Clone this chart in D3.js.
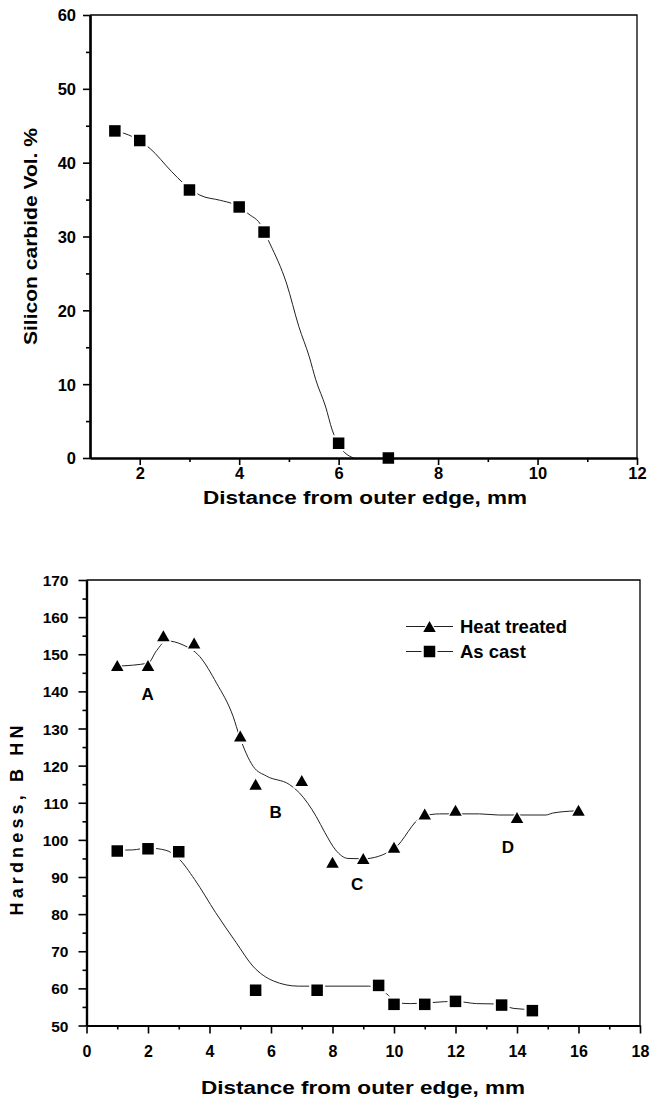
<!DOCTYPE html>
<html><head><meta charset="utf-8">
<script src="https://cdn.jsdelivr.net/npm/d3@7"></script>
<style>
body{margin:0;background:#fff}
svg{display:block}
text{font-family:'Liberation Sans',Arial,Helvetica,sans-serif;font-weight:bold;fill:#000}
</style>
</head><body>
<svg id="c" width="650" height="1104"></svg>
<script>
// ---------- Top chart data: Silicon carbide vol. % ----------
const sicX = [1.5, 2, 3, 4, 4.5, 6, 7];
const sicY = [44.3, 43, 36.3, 34, 30.6, 2, 0];
const sicFitX = [1.5, 1.86, 2.21, 2.64, 2.88, 3.21, 3.62, 3.88, 4.22, 4.39, 4.62, 4.95, 5.2, 5.41, 5.54, 5.74, 5.87, 6.0, 6.3];
const sicFitY = [44.3, 43.5, 41.9, 38.8, 37.2, 35.6, 34.9, 34.4, 32.9, 32.0, 29.0, 23.7, 17.8, 13.7, 10.6, 6.9, 3.8, 1.8, 0];
const topXTicks = [2, 4, 6, 8, 10, 12];
const topYTicks = [0, 10, 20, 30, 40, 50, 60];

// ---------- Bottom chart data: Hardness ----------
const htX = [1, 2, 2.5, 3.5, 5, 5.5, 7, 8, 9, 10, 11, 12, 14, 16];
const htY = [147, 147, 155, 153, 128, 115, 116, 94, 95, 98, 107, 108, 106, 108];
const htFitX = [1, 2, 2.28, 2.6, 3.14, 3.68, 4.23, 4.77, 4.98, 5.42, 5.85, 6.6, 6.93, 7.47, 7.75, 8.1, 8.5, 9, 10, 10.93, 11.48, 12.78, 13.4, 14.94, 15.15, 15.9];
const htFitY = [146.8, 147.6, 151, 153.6, 152.5, 149.4, 142.2, 133.2, 127.8, 119.8, 117.2, 114.9, 112.6, 106.3, 102, 97.3, 95, 94.9, 97.6, 106.3, 107, 107, 106.7, 106.7, 107.2, 107.8];
const acX = [1, 2, 3, 5.5, 7.5, 9.5, 10, 11, 12, 13.5, 14.5];
const acY = [97, 97.6, 96.8, 59.5, 59.5, 60.8, 55.7, 55.7, 56.5, 55.5, 54];
const acFitX = [1, 1.5, 2, 2.58, 2.98, 3.52, 4.2, 4.87, 5.41, 6.08, 6.89, 7.7, 9.18, 9.72, 10.12, 10.53, 12, 12.68, 13.3, 13.9, 14.5];
const acFitY = [97.2, 97.3, 97.8, 97.2, 95.1, 89.3, 80.4, 72.3, 66, 62, 60.6, 60.6, 60.6, 58.8, 56.1, 55.9, 56.5, 55.9, 55.8, 54.6, 54.3];
const botXTicks = [0, 2, 4, 6, 8, 10, 12, 14, 16, 18];
const botYTicks = [50, 60, 70, 80, 90, 100, 110, 120, 130, 140, 150, 160, 170];
const noteLabels = ["A", "B", "C", "D"];
const noteX = [1.99, 6.15, 8.8, 13.7];
const noteY = [139.2, 107.5, 88.2, 98.2];
const seriesNames = ["Heat treated", "As cast"];

const svg = d3.select("#c");
const FONT = "'Liberation Sans',Arial,Helvetica,sans-serif";

function sqPath(s){const h=s/2;return `M${-h},${-h}H${h}V${h}H${-h}Z`;}
function triPath(w,h){return `M0,${-h/2}L${w/2},${h/2}L${-w/2},${h/2}Z`;}

function drawMarkers(g, xs, ys, x, y, type){
  const d = xs.map((v,i)=>[v,ys[i]]);
  const halo = type==="sq" ? sqPath(16) : triPath(18,16);
  const mk = type==="sq" ? sqPath(11.5) : triPath(12.5,11);
  g.selectAll(null).data(d).enter().append("path")
    .attr("d", halo).attr("fill","#fff")
    .attr("transform", p=>`translate(${x(p[0])},${y(p[1])})`);
  g.selectAll(null).data(d).enter().append("path")
    .attr("d", mk).attr("fill","#000")
    .attr("transform", p=>`translate(${x(p[0])},${y(p[1])})`);
}

function frame(x, y, opts){
  const [x0,x1] = x.range(), [y0,y1] = y.range();
  const g = svg.append("g");
  g.append("path").attr("d",`M${x0},${y1}H${x1}V${y0}`).attr("fill","none").attr("stroke","#000").attr("stroke-width",1.3);
  const xa = d3.axisBottom(x).tickValues(opts.xTicks).tickSize(opts.tick).tickSizeOuter(0).tickFormat(d3.format("d"));
  const xmin = d3.axisBottom(x).tickValues(opts.xMinor).tickSize(opts.minor).tickSizeOuter(0).tickFormat("");
  const ya = d3.axisLeft(y).tickValues(opts.yTicks).tickSize(opts.tick).tickSizeOuter(0).tickFormat(d3.format("d"));
  const ymin = d3.axisLeft(y).tickValues(opts.yMinor).tickSize(opts.minor).tickSizeOuter(0).tickFormat("");
  const gx = g.append("g").attr("transform",`translate(0,${y0})`).call(xa);
  g.append("g").attr("transform",`translate(0,${y0})`).call(xmin);
  const gy = g.append("g").attr("transform",`translate(${x0},0)`).call(ya);
  g.append("g").attr("transform",`translate(${x0},0)`).call(ymin);
  g.selectAll(".domain").attr("stroke","#000").attr("stroke-width",2.2);
  g.selectAll(".tick line").attr("stroke","#000").attr("stroke-width",1.6);
  gx.selectAll(".tick text").attr("dy",0).attr("y",opts.xLabY)
    .style("font-size",opts.fx+"px").style("font-weight","bold").style("font-family",FONT);
  gy.selectAll(".tick text").attr("x",-opts.yLabGap).attr("dy","0.36em")
    .style("font-size",opts.fy+"px").style("font-weight","bold").style("font-family",FONT);
  g.selectAll(".tick text").attr("fill","#000");
  return g;
}

function fitLine(g, xs, ys, x, y){
  const line = d3.line().x(d=>x(d[0])).y(d=>y(d[1])).curve(d3.curveMonotoneX);
  g.append("path").datum(xs.map((v,i)=>[v,ys[i]])).attr("d",line)
    .attr("fill","none").attr("stroke","#222").attr("stroke-width",1);
}

// ===== Top chart =====
{
  const x = d3.scaleLinear().domain([1,12]).range([90,637]);
  const y = d3.scaleLinear().domain([0,60]).range([458,15]);
  const gl = svg.append("g");
  fitLine(gl, sicFitX, sicFitY, x, y);
  drawMarkers(gl, sicX, sicY, x, y, "sq");
  frame(x, y, {xTicks: topXTicks, yTicks: topYTicks, xMinor:[3,5,7,9,11], yMinor:[5,15,25,35,45,55],
    tick:7, minor:4, fx:16.5, fy:16.5, xLabY:21, yLabGap:14});
  svg.append("text").attr("x",365).attr("y",504).attr("text-anchor","middle")
    .attr("font-size",18).attr("textLength",324).attr("lengthAdjust","spacingAndGlyphs")
    .text("Distance from outer edge, mm");
  svg.append("text").attr("transform","translate(37,236.5) rotate(-90)").attr("text-anchor","middle")
    .attr("font-size",19).attr("textLength",217).attr("lengthAdjust","spacingAndGlyphs")
    .text("Silicon carbide Vol. %");
}

// ===== Bottom chart =====
{
  const x = d3.scaleLinear().domain([0,18]).range([86.5,640]);
  const y = d3.scaleLinear().domain([50,170]).range([1025.5,580]);
  const gl = svg.append("g");
  fitLine(gl, htFitX, htFitY, x, y);
  fitLine(gl, acFitX, acFitY, x, y);
  drawMarkers(gl, htX, htY, x, y, "tri");
  drawMarkers(gl, acX, acY, x, y, "sq");
  frame(x, y, {xTicks: botXTicks, yTicks: botYTicks, xMinor:[1,3,5,7,9,11,13,15,17], yMinor:[55,65,75,85,95,105,115,125,135,145,155,165],
    tick:8, minor:4, fx:16, fy:15.5, xLabY:31, yLabGap:18});
  svg.append("g").selectAll("text").data(noteLabels).enter().append("text")
    .attr("x",(d,i)=>x(noteX[i])).attr("y",(d,i)=>y(noteY[i])).attr("dy","0.36em")
    .attr("text-anchor","middle").attr("font-size",17).text(d=>d);
  const lg = svg.append("g");
  const rows = [{y:626.5, t:"tri"},{y:651.5, t:"sq"}];
  rows.forEach((r,i)=>{
    lg.append("line").attr("x1",406).attr("x2",453).attr("y1",r.y).attr("y2",r.y).attr("stroke","#222").attr("stroke-width",1);
    lg.append("path").attr("d", r.t==="tri"?triPath(18,16):sqPath(16)).attr("fill","#fff").attr("transform",`translate(429.5,${r.y})`);
    lg.append("path").attr("d", r.t==="tri"?triPath(12.5,11):sqPath(11.5)).attr("fill","#000").attr("transform",`translate(429.5,${r.y})`);
    lg.append("text").attr("x",460).attr("y",r.y).attr("dy","0.36em").attr("font-size",18.5).text(seriesNames[i]);
  });
  svg.append("text").attr("x",363).attr("y",1094).attr("text-anchor","middle")
    .attr("font-size",18).attr("textLength",324).attr("lengthAdjust","spacingAndGlyphs")
    .text("Distance from outer edge, mm");
  svg.append("text").attr("transform","translate(23,820.5) rotate(-90)").attr("text-anchor","middle")
    .attr("font-size",18).attr("textLength",190).attr("lengthAdjust","spacing")
    .text("Hardness, B HN");
}
</script>
</body></html>
